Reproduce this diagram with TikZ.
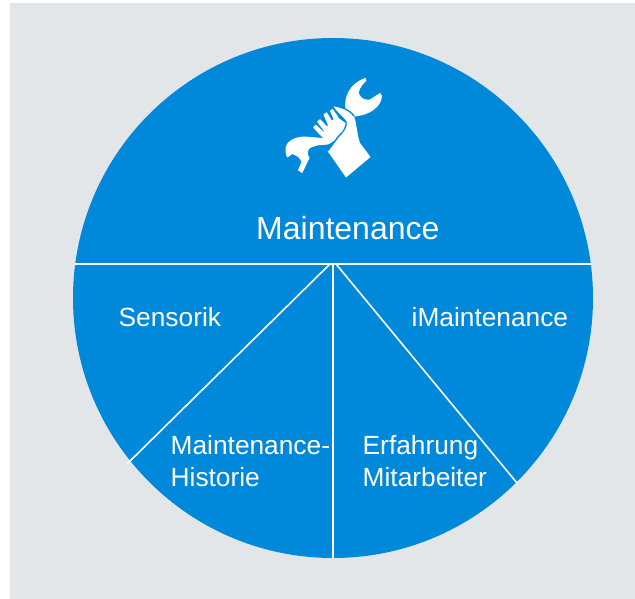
\documentclass[tikz,border=0pt]{standalone}
\usepackage{fontspec}
\setmainfont{Liberation Sans}
\definecolor{pieblue}{HTML}{0088DA}
\definecolor{backgray}{HTML}{E3E6E9}
\tikzset{
  slice/.style={white,line width=1.6pt},
  small/.style={text=white,anchor=base west,inner sep=0pt,align=left,font=\fontsize{26.3}{32}\selectfont},
  icon/.style={fill=white,draw=white,line width=0.9pt,line join=round},
  gap/.style={draw=pieblue,line width=1.4pt,line join=round}
}
\begin{document}
\begin{tikzpicture}[x=1pt,y=-1pt]
\useasboundingbox (0,0) rectangle (635,599);
\fill[backgray] (10,3) rectangle (635,599);
\fill[pieblue] (333,298) circle [radius=260];
% ends of the dividing lines
\coordinate (left) at (75,264);
\coordinate (right) at (591,264);
\coordinate (hub) at (333,264);
\coordinate (hubl) at (330,264);
\coordinate (hubr) at (336,264);
\coordinate (hist) at (127,464);
\coordinate (bottom) at (333,558);
\coordinate (erf) at (517,483);
\path[slice](left)edge(right);
\path[slice](hubl)edge(hist);
\path[slice](hub)edge(bottom);
\path[slice](hubr)edge(erf);
% wrench head
\draw[icon] (346,110) .. controls (344,97) and (350,84) .. (365,78.5) -- (366,80.5)
  .. controls (360,86) and (357,92) .. (359,95) .. controls (361,99) and (366,101) .. (370,100)
  -- (380,93.5) -- (381.5,96) .. controls (381,106) and (370,115) .. (354,116) -- cycle;
% wrench grip
\draw[icon] (286,148) .. controls (287,141) and (296,137) .. (305,137) -- (323,138.5) -- (334,132)
  -- (340,137) -- (328,144) -- (317,145) -- (311,147) .. controls (307,149) and (306,153) .. (309,158)
  -- (302,172.5) -- (298.5,170) -- (302,162) .. controls (301,158) and (297,155) .. (292,153.5)
  -- (287.5,157) .. controls (286,155) and (286,151) .. (286,148) -- cycle;
% hand
\fill[white] (332,105.5) .. controls (340,106) and (350,110) .. (354,116) .. controls (357,125) and (357,135) .. (360,143)
  -- (370.5,157) -- (346,177.5) -- (327.5,151) -- (338,137)
  .. controls (343,132) and (347,127) .. (346,122) .. controls (343,117) and (337,114) .. (332,105.5) -- cycle;
\draw[gap] (328,150.5) -- (338,137) .. controls (343,132) and (347,127) .. (346,122)
  .. controls (343,117) and (337,114) .. (332,105.5) .. controls (340,106) and (350,110) .. (354,116);
% fist
\fill[white] (337,117) -- (345.5,123) .. controls (345,130) and (340,134) .. (336,137) -- (328,142) -- (321,136) -- (330,122) -- cycle;
% fingers
\draw[icon] (330.5,111) -- (332.5,109.5) -- (338,117.3) -- (335.3,122) -- cycle;
\draw[icon] (324,114.5) -- (326.5,112.8) -- (332.7,122.7) -- (329.3,127.3) -- cycle;
\draw[icon] (317.6,121.7) -- (320,119.8) -- (328.7,128.7) -- (325.3,132) -- cycle;
\draw[icon] (313.6,127.3) -- (315.8,125.2) -- (324,132.7) -- (321,135.3) -- cycle;
\node[small,font=\fontsize{32}{38}\selectfont] (main) at (256,239) {Maintenance};
\node[small] (sensorik) at (118.5,326) {Sensorik};
\node[small] (imaint) at (411.5,326) {iMaintenance};
\node[small] (histtop) at (170.5,454) {Maintenance-};
\node[small] (histlow) at (170.5,486) {Historie};
\node[small] (erftop) at (362.5,454) {Erfahrung};
\node[small] (erflow) at (362.5,486) {Mitarbeiter};
\end{tikzpicture}
\end{document}
